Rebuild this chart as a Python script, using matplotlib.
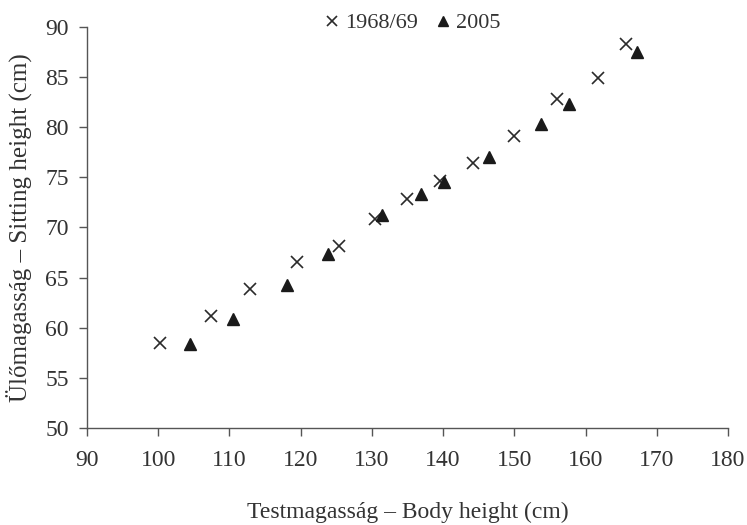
import matplotlib.pyplot as plt

plt.rcParams['font.family'] = ['Liberation Serif', 'DejaVu Serif']

# 1968/69 survey
body_1968 = [100.3, 107.4, 112.9, 119.5, 125.4, 130.4, 135.0, 139.6, 144.2, 149.9, 156.0, 161.8, 165.7]
sit_1968 = [58.5, 61.2, 63.9, 66.6, 68.2, 70.8, 72.8, 74.6, 76.4, 79.1, 82.8, 84.9, 88.3]

# 2005 survey
body_2005 = [104.4, 110.5, 118.1, 123.9, 131.4, 136.9, 140.1, 146.4, 153.8, 157.7, 167.2]
sit_2005 = [58.4, 60.9, 64.3, 67.4, 71.2, 73.3, 74.5, 77.0, 80.3, 82.3, 87.5]

x_ticks = list(range(90, 181, 10))
y_ticks = list(range(50, 91, 5))

axis_col = '#555555'
text_col = '#333333'

fig = plt.figure(figsize=(7.47, 5.25), dpi=100)
ax = fig.add_axes([0.1165, 0.1848, 0.858, 0.7638])

ax.plot(body_1968, sit_1968, linestyle='none', marker='x', markersize=8,
        markeredgewidth=1.2, color='#2a2a2a', label='1968/69')
ax.plot(body_2005, sit_2005, linestyle='none', marker='^', markersize=8,
        color='#1a1a1a', label='2005')

ax.set_xlim(90, 180)
ax.set_ylim(50, 90)
ax.set_xticks(x_ticks)
ax.set_yticks(y_ticks)

for side in ['top', 'right']:
    ax.spines[side].set_visible(False)
for side in ['left', 'bottom']:
    ax.spines[side].set_color(axis_col)
    ax.spines[side].set_linewidth(1.0)

ax.tick_params(axis='both', colors=axis_col, labelcolor=text_col, labelsize=17, length=6, width=1)
ax.tick_params(axis='x', pad=10)
ax.tick_params(axis='y', pad=7)

ax.set_xlabel('Testmagasság – Body height (cm)', fontsize=17, color=text_col, labelpad=22)
ax.set_ylabel('Ülőmagasság – Sitting height (cm)', fontsize=18, color=text_col, labelpad=10)

ax.legend(loc='upper center', bbox_to_anchor=(0.505, 1.085), ncol=2, frameon=False,
          fontsize=16, handletextpad=0.1, columnspacing=0.6, markerscale=0.9,
          handlelength=1.0, labelcolor=text_col)

fig.savefig('out.png', dpi=100)
